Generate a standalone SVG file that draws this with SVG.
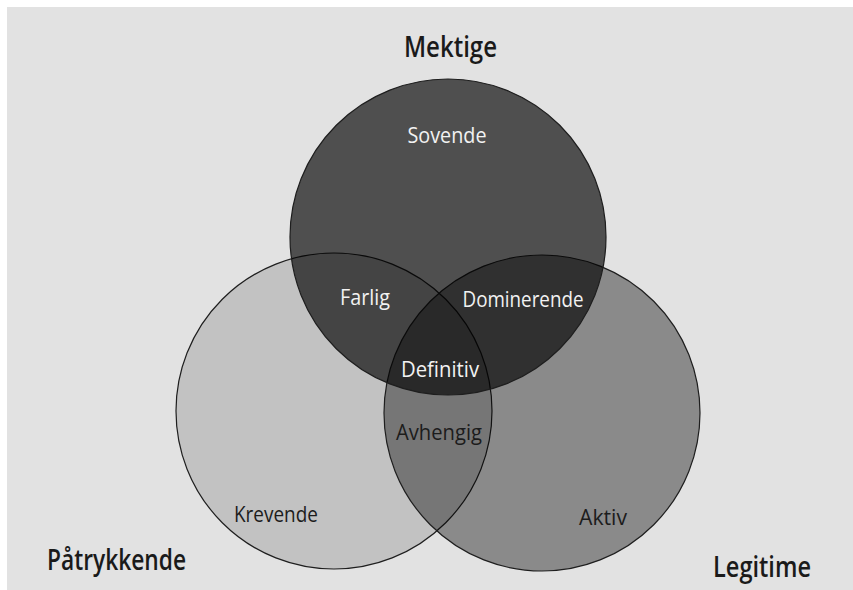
<svg xmlns="http://www.w3.org/2000/svg" width="853" height="590" viewBox="0 0 853 590">
  <style>
    .set { stroke: #1e1e1e; stroke-width: 1.2; fill: #000; }
    .lbl { font-family: "Open Sans", "Noto Sans", sans-serif; font-size: 22px; text-anchor: middle; }
    .in { fill: #f2f2f2; }
    .out { fill: #1c1c1c; }
    .title { font-family: "Open Sans", "Noto Sans", sans-serif; font-size: 28px; font-weight: 600; fill: #1a1a1a; }
  </style>
  <rect x="0" y="0" width="853" height="590" fill="#ffffff"/>
  <rect x="7" y="7" width="846" height="583" fill="#e2e2e2"/>

  <g id="sets">
    <g id="set-patrykkende">
      <circle class="set" cx="334" cy="411" r="158" fill-opacity="0.14"/>
    </g>
    <g id="set-legitime">
      <circle class="set" cx="542" cy="413" r="158" fill-opacity="0.39"/>
    </g>
    <g id="set-mektige">
      <circle class="set" cx="448" cy="237" r="158" fill-opacity="0.65"/>
    </g>
  </g>

  <g id="region-labels">
    <g id="sovende"><text class="lbl in" x="447" y="143" textLength="79" lengthAdjust="spacingAndGlyphs">Sovende</text></g>
    <g id="farlig"><text class="lbl in" x="365" y="305" textLength="50" lengthAdjust="spacingAndGlyphs">Farlig</text></g>
    <g id="dominerende"><text class="lbl in" x="523" y="307" textLength="121" lengthAdjust="spacingAndGlyphs">Dominerende</text></g>
    <g id="definitiv"><text class="lbl in" x="440" y="377" textLength="78" lengthAdjust="spacingAndGlyphs">Definitiv</text></g>
    <g id="avhengig"><text class="lbl out" x="439" y="440" textLength="86" lengthAdjust="spacingAndGlyphs">Avhengig</text></g>
    <g id="krevende"><text class="lbl out" x="276" y="522" textLength="84" lengthAdjust="spacingAndGlyphs">Krevende</text></g>
    <g id="aktiv"><text class="lbl out" x="603" y="525" textLength="48" lengthAdjust="spacingAndGlyphs">Aktiv</text></g>
  </g>

  <g id="set-titles">
    <g id="mektige"><text class="title" x="404" y="57" textLength="93" lengthAdjust="spacingAndGlyphs">Mektige</text></g>
    <g id="patrykkende"><text class="title" x="47" y="570" textLength="139" lengthAdjust="spacingAndGlyphs">Påtrykkende</text></g>
    <g id="legitime"><text class="title" x="713" y="577" textLength="98" lengthAdjust="spacingAndGlyphs">Legitime</text></g>
  </g>
</svg>
